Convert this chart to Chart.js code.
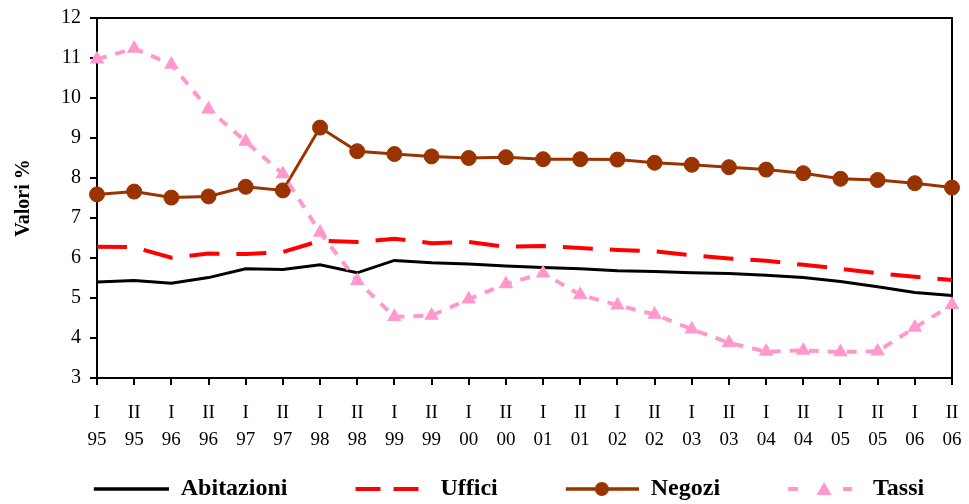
<!DOCTYPE html>
<html>
<head>
<meta charset="utf-8">
<script src="https://cdn.jsdelivr.net/npm/chart.js@4.4.1/dist/chart.umd.min.js"></script>
<style>
  html, body { margin: 0; padding: 0; background: #fff; }
</style>
</head>
<body>
<canvas id="chart" width="969" height="504"></canvas>
<script>
// semestri e anni
const periods = ['I','II','I','II','I','II','I','II','I','II','I','II','I','II','I','II','I','II','I','II','I','II','I','II'];
const years = ['95','95','96','96','97','97','98','98','99','99','00','00','01','01','02','02','03','03','04','04','05','05','06','06'];

const abitazioni = [5.40, 5.44, 5.37, 5.51, 5.73, 5.71, 5.83, 5.63, 5.94, 5.88, 5.85, 5.80, 5.76, 5.73, 5.68, 5.66, 5.63, 5.61, 5.57, 5.51, 5.41, 5.28, 5.14, 5.06];
const uffici = [6.28, 6.27, 6.01, 6.11, 6.10, 6.15, 6.43, 6.40, 6.48, 6.37, 6.40, 6.28, 6.30, 6.25, 6.20, 6.17, 6.07, 5.99, 5.93, 5.83, 5.73, 5.62, 5.53, 5.45];
const negozi = [7.59, 7.66, 7.51, 7.54, 7.78, 7.69, 9.26, 8.67, 8.60, 8.54, 8.50, 8.52, 8.47, 8.47, 8.46, 8.38, 8.33, 8.27, 8.21, 8.12, 7.98, 7.95, 7.87, 7.76];
const tassi = [10.97, 11.24, 10.84, 9.72, 8.91, 8.10, 6.64, 5.43, 4.53, 4.56, 4.97, 5.35, 5.62, 5.08, 4.82, 4.59, 4.22, 3.88, 3.66, 3.69, 3.65, 3.67, 4.26, 4.83];

const yMin = 3, yMax = 12;

const labels = periods.map((p, i) => [p, years[i]]);

// campioni della legenda (linea + marker), disegnati a destra dell'immagine
const LEG_W = 141, LEG_H = 24;
function legendSample(draw) {
  const c = document.createElement('canvas');
  c.width = LEG_W; c.height = LEG_H;
  const g = c.getContext('2d');
  g.translate(LEG_W, LEG_H / 2);
  draw(g);
  return c;
}
const legendImgs = [
  legendSample(g => {
    g.strokeStyle = '#000'; g.lineWidth = 3.5;
    g.beginPath(); g.moveTo(-75, 0); g.lineTo(0, 0); g.stroke();
  }),
  legendSample(g => {
    g.fillStyle = '#FF0000';
    g.fillRect(-73, -2, 25, 4);
    g.fillRect(-35, -2, 25, 4);
  }),
  legendSample(g => {
    g.strokeStyle = '#993300'; g.lineWidth = 3.5;
    g.beginPath(); g.moveTo(-73, 0); g.lineTo(0, 0); g.stroke();
    g.fillStyle = '#993300';
    g.beginPath(); g.arc(-37, 0, 7, 0, Math.PI * 2); g.fill();
  }),
  legendSample(g => {
    g.fillStyle = '#FF99CC';
    g.fillRect(-73, -2, 10, 4);
    g.fillRect(-18, -2, 9, 4);
    g.beginPath(); g.moveTo(-37, -7); g.lineTo(-29.5, 6); g.lineTo(-44.5, 6); g.closePath(); g.fill();
  })
];

// cornice dell'area del grafico
const framePlugin = {
  id: 'frame',
  beforeDatasetsDraw(chart) {
    const a = chart.chartArea, ctx = chart.ctx;
    ctx.save();
    ctx.strokeStyle = '#000';
    ctx.lineWidth = 2;
    ctx.strokeRect(a.left, a.top, a.right - a.left, a.bottom - a.top);
    ctx.restore();
  }
};

const serif = 'Liberation Serif, Times New Roman, serif';

new Chart(document.getElementById('chart').getContext('2d'), {
  type: 'line',
  data: {
    labels: labels,
    datasets: [
      {
        label: 'Abitazioni', data: abitazioni,
        borderColor: '#000000', borderWidth: 3,
        pointRadius: 0, order: 4, clip: false
      },
      {
        label: 'Uffici', data: uffici,
        borderColor: '#FF0000', borderWidth: 4, borderDash: [30, 17],
        pointRadius: 0, order: 3, clip: false
      },
      {
        label: 'Negozi', data: negozi,
        borderColor: '#993300', borderWidth: 3,
        pointRadius: 7.5, pointBorderWidth: 1,
        pointBackgroundColor: '#993300', pointBorderColor: '#993300',
        order: 2, clip: false
      },
      {
        label: 'Tassi', data: tassi,
        borderColor: '#FF99CC', borderWidth: 4, borderDash: [10, 9],
        pointStyle: 'triangle', pointRadius: 8.5, pointBorderWidth: 0,
        pointBackgroundColor: '#FF99CC', pointBorderColor: '#FF99CC',
        order: 1, clip: false
      }
    ]
  },
  options: {
    responsive: false,
    animation: false,
    devicePixelRatio: 1,
    layout: { padding: { top: 18, right: 17, left: 0, bottom: -7 } },
    plugins: {
      tooltip: { enabled: false },
      legend: {
        position: 'bottom',
        labels: {
          usePointStyle: true,
          pointStyleWidth: LEG_W,
          padding: 0,
          color: '#000',
          font: { family: serif, size: 24, weight: 'bold' },
          sort: (a, b) => a.datasetIndex - b.datasetIndex,
          generateLabels(chart) {
            const items = Chart.defaults.plugins.legend.labels.generateLabels(chart);
            items.forEach(it => { it.pointStyle = legendImgs[it.datasetIndex]; });
            return items;
          }
        }
      }
    },
    scales: {
      x: {
        type: 'category',
        offset: false,
        afterFit(scale) {
          scale.height = 99;
          scale.paddingLeft = 0;
          scale.paddingRight = 0;
        },
        grid: {
          drawOnChartArea: false, drawTicks: true, tickLength: 7,
          color: '#000', lineWidth: 2, offset: false
        },
        border: { display: true, color: '#000', width: 2 },
        ticks: {
          color: '#000', padding: 14, maxRotation: 0, autoSkip: false,
          font: { family: serif, size: 19, lineHeight: 1.45 }
        }
      },
      y: {
        min: yMin, max: yMax,
        afterFit(scale) {
          scale.width = 97;
          scale.paddingTop = 0;
          scale.paddingBottom = 0;
        },
        grid: {
          drawOnChartArea: false, drawTicks: true, tickLength: 7,
          color: '#000', lineWidth: 2
        },
        border: { display: true, color: '#000', width: 2 },
        ticks: {
          stepSize: 1, color: '#000', padding: 9,
          font: { family: serif, size: 20 }
        },
        title: {
          display: true, text: 'Valori %', color: '#000',
          padding: { top: 12, bottom: 0 },
          font: { family: serif, size: 20, weight: 'bold' }
        }
      }
    }
  },
  plugins: [framePlugin]
});
</script>
</body>
</html>
